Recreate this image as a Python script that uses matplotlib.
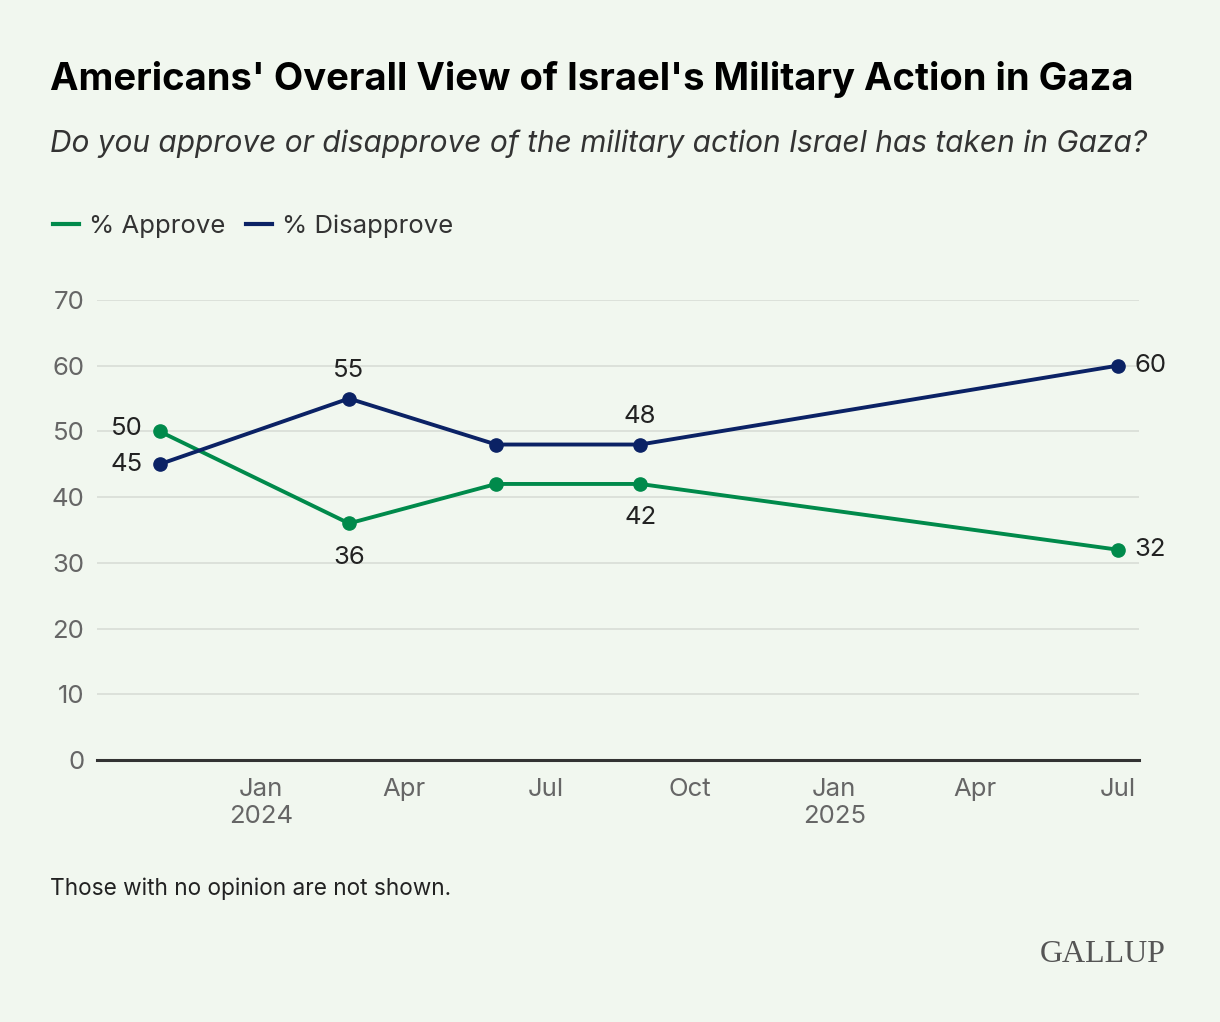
import matplotlib.pyplot as plt
import numpy as np
from datetime import date

plt.rcParams['font.family'] = ['Inter', 'DejaVu Sans']

# survey dates and values
dates = [date(2023, 10, 28), date(2024, 2, 26), date(2024, 5, 30),
         date(2024, 8, 30), date(2025, 7, 1)]
approve = [50, 36, 42, 42, 32]
disapprove = [45, 55, 48, 48, 60]

tick_dates = [date(2024, 1, 1), date(2024, 4, 1), date(2024, 7, 1), date(2024, 10, 1),
              date(2025, 1, 1), date(2025, 4, 1), date(2025, 7, 1)]
tick_labels = ['Jan\n2024', 'Apr', 'Jul', 'Oct', 'Jan\n2025', 'Apr', 'Jul']

bg = '#F1F7EF'
green = '#008A4B'
navy = '#0B2265'

fig = plt.figure(figsize=(12.2, 10.22), dpi=100, facecolor=bg)
ax = fig.add_axes([0.0795, 0.2564, 0.8545, 0.4501])
ax.set_facecolor(bg)

ax.plot(dates, approve, color=green, lw=2.8, marker='o', ms=9.5, label='% Approve')
ax.plot(dates, disapprove, color=navy, lw=2.8, marker='o', ms=9.5, label='% Disapprove')

ax.set_ylim(0, 70)
ax.set_xlim(date(2023, 9, 18), date(2025, 7, 15))
ax.set_yticks(np.arange(0, 71, 10))
ax.set_xticks(tick_dates)
ax.set_xticklabels(tick_labels)
ax.tick_params(axis='both', length=0, labelsize=18.5, colors='#666666')
ax.tick_params(axis='x', pad=13)
ax.tick_params(axis='y', pad=9)
ax.grid(axis='y', color='#D8DDD6', lw=1.2)
ax.set_axisbelow(True)
for s in ['top', 'right', 'left']:
    ax.spines[s].set_visible(False)
ax.spines['bottom'].set_color('#333333')
ax.spines['bottom'].set_linewidth(2.2)

lab = dict(fontsize=18.5, color='#222222')
# first point labels to the left
ax.annotate(str(approve[0]), (dates[0], approve[0]), xytext=(-12, 2), textcoords='offset points',
            ha='right', va='center', **lab)
ax.annotate(str(disapprove[0]), (dates[0], disapprove[0]), xytext=(-12, 0), textcoords='offset points',
            ha='right', va='center', **lab)
ax.annotate(str(disapprove[1]), (dates[1], disapprove[1]), xytext=(0, 12), textcoords='offset points',
            ha='center', va='bottom', **lab)
ax.annotate(str(approve[1]), (dates[1], approve[1]), xytext=(0, -16), textcoords='offset points',
            ha='center', va='top', **lab)
ax.annotate(str(disapprove[3]), (dates[3], disapprove[3]), xytext=(0, 12), textcoords='offset points',
            ha='center', va='bottom', **lab)
ax.annotate(str(approve[3]), (dates[3], approve[3]), xytext=(0, -16), textcoords='offset points',
            ha='center', va='top', **lab)
ax.annotate(str(disapprove[4]), (dates[4], disapprove[4]), xytext=(12, 0), textcoords='offset points',
            ha='left', va='center', **lab)
ax.annotate(str(approve[4]), (dates[4], approve[4]), xytext=(12, 0), textcoords='offset points',
            ha='left', va='center', **lab)

fig.text(50 / 1220, 1 - 79 / 1022, "Americans' Overall View of Israel's Military Action in Gaza",
         fontsize=27.5, fontweight='bold', color='#000000', va='center')
fig.text(50 / 1220, 1 - 144 / 1022, "Do you approve or disapprove of the military action Israel has taken in Gaza?",
         fontsize=21.5, style='italic', color='#333333', va='center')

leg = ax.legend(loc='upper left', bbox_to_anchor=(30 / 1220, 1 - 191 / 1022), bbox_transform=fig.transFigure,
                ncol=2, frameon=False, fontsize=18.5, handlelength=1.0, handletextpad=0.4,
                columnspacing=0.8, labelcolor='#333333')
for h in leg.legend_handles:
    h.set_marker('')
    h.set_linewidth(3)

fig.text(50 / 1220, 1 - 889 / 1022, 'Those with no opinion are not shown.',
         fontsize=16.3, color='#222222', va='center')
fig.text(1166 / 1220, 1 - 954 / 1022, 'GALLUP', fontsize=23, family='Liberation Serif',
         color='#555555', ha='right', va='center')

fig.savefig('out.png', dpi=100, facecolor=bg)
